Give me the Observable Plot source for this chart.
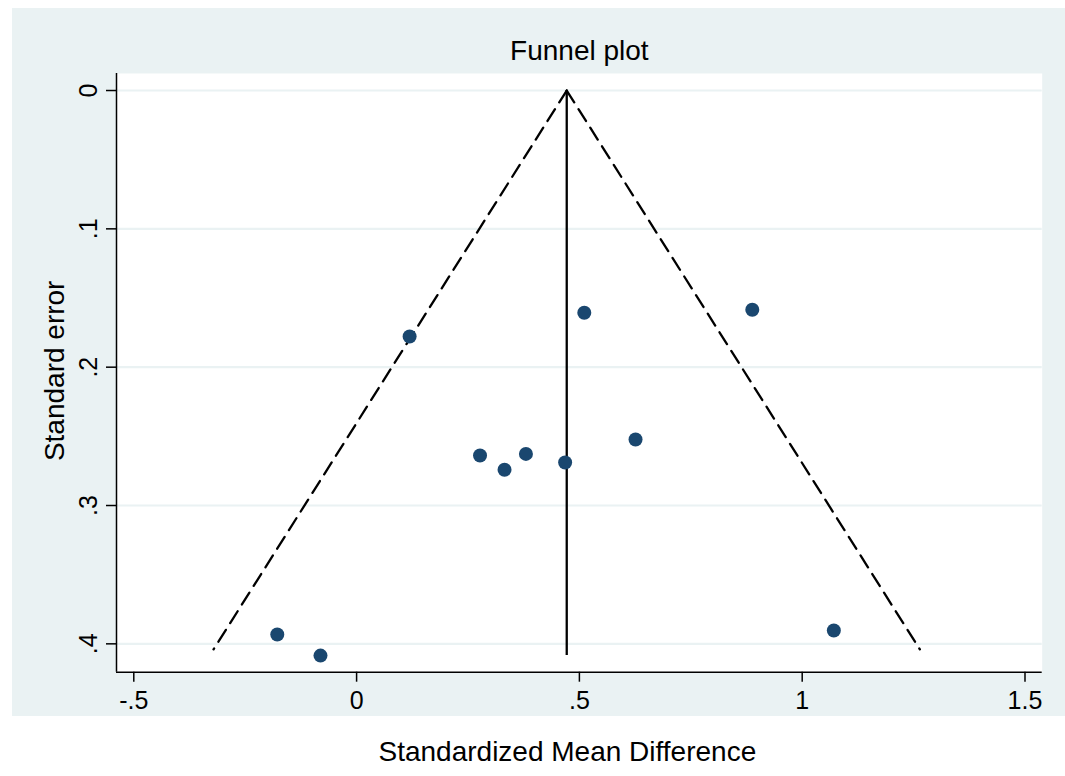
<!DOCTYPE html>
<html>
<head>
<meta charset="utf-8">
<script src="https://cdn.jsdelivr.net/npm/d3@7"></script>
<script src="https://cdn.jsdelivr.net/npm/@observablehq/plot@0.6"></script>
<style>
  html, body { margin: 0; padding: 0; background: #ffffff; }
  #wrap { position: relative; width: 1065px; height: 776px; background: #ffffff; overflow: hidden; }
  #bg { position: absolute; left: 12px; top: 8px; width: 1053px; height: 708px; background: #eaf2f3; }
  #chart { position: absolute; left: 0; top: 0; }
  #chart svg { background: transparent !important; }
</style>
</head>
<body>
<div id="wrap"><div id="bg"></div><div id="chart"></div></div>
<script>
// ---- data ----
const studySmd = [-0.178, -0.081, 0.119, 0.277, 0.332, 0.380, 0.468, 0.511, 0.626, 0.888, 1.071];
const studySe  = [0.3933, 0.4085, 0.1778, 0.2639, 0.2742, 0.2627, 0.2689, 0.1607, 0.2523, 0.1585, 0.3904];
const pooledSmd = 0.4716;          // vertical line (pooled estimate)
const pooledLineSeEnd = 0.4085;    // where the vertical line stops
const funnelApexSe = 0;
const funnelBottomSe = 0.404;
const funnelLeftSmd = -0.321;      // lower-left end of the dashed limit
const funnelRightSmd = 1.264;      // lower-right end of the dashed limit
const xTicks = [-0.5, 0, 0.5, 1, 1.5];
const yTicks = [0, 0.1, 0.2, 0.3, 0.4];
const titleText = "Funnel plot";
const xTitle = "Standardized Mean Difference";
const yTitle = "Standard error";

// ---- tables built from the arrays ----
const studies = studySmd.map((x, i) => ({smd: x, se: studySe[i]}));
const leftLimit = [{smd: pooledSmd, se: funnelApexSe}, {smd: funnelLeftSmd, se: funnelBottomSe}];
const rightLimit = [{smd: pooledSmd, se: funnelApexSe}, {smd: funnelRightSmd, se: funnelBottomSe}];

const xDomain = [-0.5388, 1.5386];
const yDomain = [-0.0123, 0.4205];

const stataFmt = d => d === 0 ? "0" : String(d).replace(/^(-?)0\./, "$1.");

const FONT = "'Liberation Sans', Arial, Helvetica, sans-serif";
const navy = "#1a476f";
const grid = "#eaf2f3";

const chart = Plot.plot({
  width: 1065,
  height: 776,
  marginLeft: 116,
  marginRight: 23.3,
  marginTop: 73,
  marginBottom: 104.3,
  style: {fontFamily: FONT, background: "transparent", color: "#000"},
  x: {domain: xDomain},
  y: {domain: yDomain, reverse: true},
  marks: [
    Plot.frame({fill: "white", stroke: null}),
    Plot.gridY(yTicks, {stroke: grid, strokeOpacity: 1, strokeWidth: 2.2}),
    Plot.ruleX([xDomain[0]], {stroke: "#000", strokeWidth: 1.5}),
    Plot.ruleY([yDomain[1]], {stroke: "#000", strokeWidth: 1.5}),
    Plot.axisX({ticks: xTicks, tickFormat: stataFmt, tickSize: 10, tickPadding: 9, fontSize: 25, label: null, strokeWidth: 1.5}),
    Plot.axisY({ticks: yTicks, tickFormat: stataFmt, tickSize: 10, tickPadding: 10, tickRotate: -90, fontSize: 25, label: null, strokeWidth: 1.5}),
    Plot.line(leftLimit, {x: "smd", y: "se", stroke: "#000", strokeWidth: 2.3, strokeDasharray: "14,8"}),
    Plot.line(rightLimit, {x: "smd", y: "se", stroke: "#000", strokeWidth: 2.3, strokeDasharray: "14,8"}),
    Plot.ruleX([pooledSmd], {y1: funnelApexSe, y2: pooledLineSeEnd, stroke: "#000", strokeWidth: 2.3}),
    Plot.dot(studies, {x: "smd", y: "se", r: 7, fill: navy, stroke: null}),
    Plot.text([titleText], {frameAnchor: "top", textAnchor: "middle", lineAnchor: "bottom", dy: -14, fontSize: 28, fill: "#000"}),
    Plot.text([xTitle], {frameAnchor: "bottom", textAnchor: "middle", lineAnchor: "middle", dy: 80, dx: -12, fontSize: 28, fill: "#000"}),
    Plot.text([yTitle], {frameAnchor: "left", textAnchor: "middle", rotate: -90, lineAnchor: "middle", dx: -61, dy: -2, fontSize: 28, fill: "#000"})
  ]
});
document.getElementById("chart").appendChild(chart);
</script>
</body>
</html>
